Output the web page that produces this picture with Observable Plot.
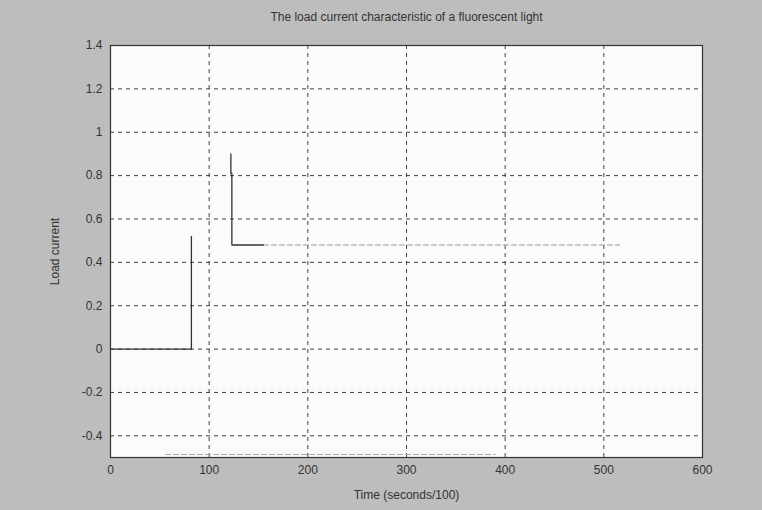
<!DOCTYPE html>
<html>
<head>
<meta charset="utf-8">
<script src="https://cdn.jsdelivr.net/npm/d3@7"></script>
<script src="https://cdn.jsdelivr.net/npm/@observablehq/plot@0.6"></script>
<style>
  html, body { margin: 0; padding: 0; background: #bdbdbd; }
</style>
</head>
<body>
<div id="chart"></div>
<script>
const titleText = "The load current characteristic of a fluorescent light";
const xLabel = "Time (seconds/100)";
const yLabel = "Load current";
const xTicks = [0, 100, 200, 300, 400, 500, 600];
const yTicks = [-0.4, -0.2, 0, 0.2, 0.4, 0.6, 0.8, 1, 1.2, 1.4];

// visible dark trace segments
const stepTime = [0, 82, 82];
const stepCurrent = [0, 0, 0.52];
const spikeTime = [122, 122, 123, 123, 155];
const spikeCurrent = [0.9, 0.81, 0.81, 0.48, 0.48];
// faint (washed out) trace segments
const faintTopTime = [155, 516];
const faintTopCurrent = [0.48, 0.48];
const faintBottomTime = [56, 390];
const faintBottomCurrent = [-0.486, -0.486];

const toRows = (t, c) => t.map((v, i) => ({t: v, c: c[i]}));

const fmt = d => {
  const s = d3.format(".1f")(d);
  return s.replace(/\.0$/, "").replace("−", "-");
};

const chart = Plot.plot({
  width: 762,
  height: 510,
  marginLeft: 110,
  marginRight: 60,
  marginTop: 45,
  marginBottom: 53,
  style: {background: "#bdbdbd", fontFamily: "'Liberation Sans', Arial, sans-serif", fontSize: "11px", color: "#333"},
  x: {domain: [0, 600], label: null},
  y: {domain: [-0.5, 1.4], label: null},
  marks: [
    Plot.frame({fill: "#fbfbfb", stroke: null}),
    Plot.gridX(xTicks, {stroke: "#222", strokeOpacity: 0.85, strokeDasharray: "4,4"}),
    Plot.gridY(yTicks, {stroke: "#222", strokeOpacity: 0.85, strokeDasharray: "4,4"}),
    Plot.line(toRows(faintTopTime, faintTopCurrent), {x: "t", y: "c", stroke: "#999", strokeWidth: 1, strokeDasharray: "5,3"}),
    Plot.line(toRows(faintBottomTime, faintBottomCurrent), {x: "t", y: "c", stroke: "#aaa", strokeWidth: 1, strokeDasharray: "5,3"}),
    Plot.line(toRows(stepTime, stepCurrent), {x: "t", y: "c", stroke: "#333", strokeWidth: 1.3}),
    Plot.line(toRows(spikeTime, spikeCurrent), {x: "t", y: "c", stroke: "#333", strokeWidth: 1.3}),
    Plot.frame({stroke: "#333", strokeWidth: 1.2}),
    Plot.axisX(xTicks, {tickSize: 0, tickPadding: 8, fill: "#333", fontSize: 12, label: null}),
    Plot.axisY(yTicks, {tickSize: 0, tickPadding: 8, fill: "#333", fontSize: 12, tickFormat: fmt, label: null}),
    Plot.text([titleText], {frameAnchor: "top", dy: -33, lineAnchor: "top", fill: "#333", fontSize: 12}),
    Plot.text([xLabel], {frameAnchor: "bottom", dy: 38, lineAnchor: "middle", fill: "#333", fontSize: 12}),
    Plot.text([yLabel], {frameAnchor: "left", dx: -55, rotate: -90, textAnchor: "middle", lineAnchor: "middle", fill: "#333", fontSize: 12})
  ]
});
document.getElementById("chart").append(chart);
</script>
</body>
</html>
